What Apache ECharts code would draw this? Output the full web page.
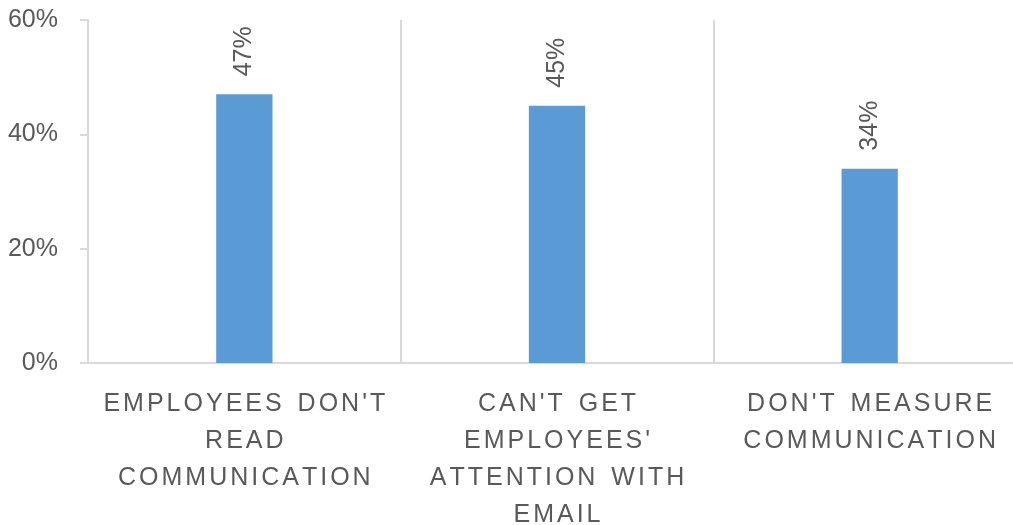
<!DOCTYPE html>
<html>
<head>
<meta charset="utf-8">
<script src="https://cdn.jsdelivr.net/npm/echarts@6/dist/echarts.min.js"></script>
<style>
html,body{margin:0;padding:0;background:#fff;}
#chart{width:1013px;height:525px;}
</style>
</head>
<body>
<div id="chart"></div>
<script>
var categories = [
  "EMPLOYEES DON'T\nREAD\nCOMMUNICATION",
  "CAN'T GET\nEMPLOYEES'\nATTENTION WITH\nEMAIL",
  "DON'T MEASURE\nCOMMUNICATION"
];
var values = [47, 45, 34];
var yTicks = [0, 20, 40, 60];

var FONT = "'Liberation Sans', Arial, sans-serif";
var GRAY = '#595959';
var LINE = '#d9d9d9';

function spaced(text) {
  return text.split('\n').map(function (line) {
    return line.split('').map(function (ch) {
      return ch === ' ' ? '{sp| }' : '{c|' + ch + '}';
    }).join('');
  }).join('\n');
}

var chart = echarts.init(document.getElementById('chart'), null, {renderer: 'canvas'});
chart.setOption({
  animation: false,
  backgroundColor: '#fff',
  grid: {left: 88, top: 20, width: 938, height: 343, containLabel: false, outerBoundsMode: 'none'},
  xAxis: {
    type: 'category',
    data: categories,
    boundaryGap: true,
    axisLine: {show: true, lineStyle: {color: LINE, width: 2}},
    axisTick: {show: false},
    splitLine: {show: true, lineStyle: {color: LINE, width: 2}},
    axisLabel: {
      interval: 0,
      margin: 23,
      color: GRAY,
      fontFamily: FONT,
      fontSize: 25,
      lineHeight: 37,
      formatter: function (v) { return spaced(v); },
      rich: {
        c: {fontFamily: FONT, fontSize: 25, color: GRAY, lineHeight: 37, padding: [0, 1.5, 0, 1.5]},
        sp: {fontFamily: FONT, fontSize: 25, color: GRAY, lineHeight: 37, padding: [0, 3, 0, 3]}
      }
    }
  },
  yAxis: {
    type: 'value',
    min: yTicks[0],
    max: yTicks[yTicks.length - 1],
    interval: yTicks[1] - yTicks[0],
    axisLine: {show: true, lineStyle: {color: LINE, width: 2}},
    axisTick: {show: true, length: 8, lineStyle: {color: LINE, width: 2}},
    splitLine: {show: false},
    axisLabel: {
      margin: 30,
      color: GRAY,
      fontFamily: FONT,
      fontSize: 25,
      formatter: function (v) { return v + '%'; }
    }
  },
  series: [{
    type: 'bar',
    data: values,
    barWidth: '18%',
    itemStyle: {color: '#5b9bd5'},
    label: {
      show: true,
      position: 'top',
      rotate: 90,
      align: 'left',
      verticalAlign: 'middle',
      distance: 18,
      color: GRAY,
      fontFamily: FONT,
      fontSize: 25,
      formatter: function (p) { return p.value + '%'; }
    }
  }]
});
</script>
</body>
</html>
